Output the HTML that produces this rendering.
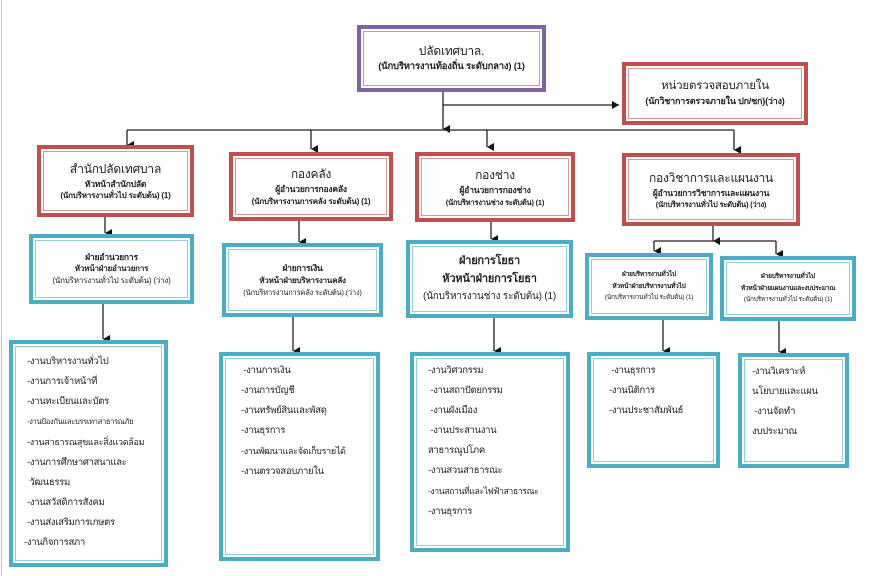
<!DOCTYPE html>
<html><head><meta charset="utf-8">
<style>
html,body{margin:0;padding:0;background:#fff}
body{width:872px;height:576px;position:relative;overflow:hidden;font-family:"Liberation Sans","Noto Sans CJK SC",sans-serif;color:#222}
.b{position:absolute;box-sizing:border-box;border:4px solid;background:#fff;text-align:center}
.b>div.in{position:absolute;left:2px;top:2px;right:2px;bottom:2px;border:1px solid}
.r{border-color:#c0504d}.r>div.in{border-color:#d99694}
.u{border-color:#4bacc6}.u>div.in{border-color:#92cddc}
.p{border-color:#8064a2}.p>div.in{border-color:#b2a1c7}
.t{position:absolute;left:0;right:0;top:0;bottom:0;display:flex;flex-direction:column;justify-content:center;align-items:center;line-height:1.5;white-space:nowrap;letter-spacing:-0.2px}
.l{position:absolute;left:0;right:0;top:0;text-align:left;font-size:9.5px;line-height:20px;white-space:nowrap;letter-spacing:-0.3px}
b{font-weight:bold}
</style></head><body>
<div style="position:absolute;left:1px;top:0;width:1px;height:576px;background:#c8c8c8"></div>
<svg width="872" height="576" style="position:absolute;left:0;top:0">
<defs><marker id="a" markerWidth="8" markerHeight="8" refX="4" refY="7" orient="auto" markerUnits="userSpaceOnUse"><path d="M0,0 L8,0 L4,7 z" fill="#111"/></marker>
<marker id="ar" markerWidth="8" markerHeight="8" refX="7" refY="4" orient="auto" markerUnits="userSpaceOnUse"><path d="M0,0 L7,4 L0,8 z" fill="#111"/></marker></defs>
<g stroke="#222" stroke-width="1.3" fill="none">
<line x1="443" y1="92" x2="443" y2="129" marker-end="url(#a)"/>
<line x1="443" y1="105" x2="619" y2="105" marker-end="url(#ar)"/>
<line x1="127" y1="130" x2="734" y2="130"/>
<line x1="127" y1="130" x2="127" y2="145" marker-end="url(#a)"/>
<line x1="487" y1="130" x2="487" y2="147" marker-end="url(#a)"/>
<line x1="734" y1="130" x2="734" y2="150" marker-end="url(#a)"/>
<line x1="311" y1="130" x2="311" y2="149" marker-end="url(#a)"/>
<line x1="105" y1="217" x2="105" y2="233" marker-end="url(#a)"/>
<line x1="299" y1="221" x2="299" y2="242" marker-end="url(#a)"/>
<line x1="491" y1="222" x2="491" y2="239" marker-end="url(#a)"/>
<line x1="713" y1="226" x2="713" y2="241" marker-end="url(#a)"/>
<line x1="654" y1="241" x2="776" y2="241"/>
<line x1="654" y1="241" x2="654" y2="251" marker-end="url(#a)"/>
<line x1="776" y1="241" x2="776" y2="254" marker-end="url(#a)"/>
<line x1="103" y1="304" x2="103" y2="339" marker-end="url(#a)"/>
<line x1="293" y1="317" x2="293" y2="351" marker-end="url(#a)"/>
<line x1="494" y1="318" x2="494" y2="351" marker-end="url(#a)"/>
<line x1="663" y1="320" x2="663" y2="351" marker-end="url(#a)"/>
<line x1="779" y1="321" x2="779" y2="352" marker-end="url(#a)"/>
</g></svg>

<div class="b p" style="left:357px;top:25px;width:189px;height:67px"><div class="in"></div><div class="t"><span style="font-size:12px">ปลัดเทศบาล.</span><b style="font-size:9.5px">(นักบริหารงานท้องถิ่น ระดับกลาง) (1)</b></div></div>
<div class="b r" style="left:622px;top:62px;width:186px;height:63px"><div class="in"></div><div class="t"><span style="font-size:11.5px">หน่วยตรวจสอบภายใน</span><b style="font-size:9px">(นักวิชาการตรวจภายใน ปก/ชก)(ว่าง)</b></div></div>

<div class="b r" style="left:37px;top:145px;width:157px;height:72px"><div class="in"></div><div class="t"><span style="font-size:12px">สำนักปลัดเทศบาล</span><b style="font-size:8.5px">หัวหน้าสำนักปลัด</b><b style="font-size:8px">(นักบริหารงานทั่วไป ระดับต้น) (1)</b></div></div>
<div class="b r" style="left:229px;top:152px;width:164px;height:69px"><div class="in"></div><div class="t"><span style="font-size:12px">กองคลัง</span><b style="font-size:8.5px">ผู้อำนวยการกองคลัง</b><b style="font-size:8px">(นักบริหารงานการคลัง ระดับต้น) (1)</b></div></div>
<div class="b r" style="left:415px;top:152px;width:160px;height:70px"><div class="in"></div><div class="t"><span style="font-size:12px">กองช่าง</span><b style="font-size:8.5px">ผู้อำนวยการกองช่าง</b><b style="font-size:7.5px">(นักบริหารงานช่าง ระดับต้น) (1)</b></div></div>
<div class="b r" style="left:622px;top:153px;width:178px;height:73px"><div class="in"></div><div class="t"><span style="font-size:12px">กองวิชาการและแผนงาน</span><b style="font-size:8.5px">ผู้อำนวยการวิชาการและแผนงาน</b><b style="font-size:7.5px">(นักบริหารงานทั่วไป ระดับต้น) (ว่าง)</b></div></div>

<div class="b u" style="left:29px;top:234px;width:165px;height:70px"><div class="in"></div><div class="t"><b style="font-size:8.5px">ฝ่ายอำนวยการ</b><b style="font-size:8px">หัวหน้าฝ่ายอำนวยการ</b><span style="font-size:8px">(นักบริหารงานทั่วไป ระดับต้น) (ว่าง)</span></div></div>
<div class="b u" style="left:222px;top:243px;width:161px;height:74px"><div class="in"></div><div class="t"><b style="font-size:8.5px">ฝ่ายการเงิน</b><b style="font-size:8px">หัวหน้าฝ่ายบริหารงานคลัง</b><span style="font-size:7.5px">(นักบริหารงานการคลัง ระดับต้น) (ว่าง)</span></div></div>
<div class="b u" style="left:406px;top:240px;width:167px;height:78px"><div class="in"></div><div class="t" style="line-height:1.6"><b style="font-size:11px">ฝ่ายการโยธา</b><b style="font-size:11px">หัวหน้าฝ่ายการโยธา</b><span style="font-size:10px">(นักบริหารงานช่าง ระดับต้น) (1)</span></div></div>
<div class="b u" style="left:585px;top:253px;width:128px;height:67px"><div class="in"></div><div class="t" style="line-height:1.8"><b style="font-size:6.5px">ฝ่ายบริหารงานทั่วไป</b><b style="font-size:6.5px">หัวหน้าฝ่ายบริหารงานทั่วไป</b><span style="font-size:6.5px">(นักบริหารงานทั่วไป ระดับต้น) (1)</span></div></div>
<div class="b u" style="left:720px;top:256px;width:136px;height:65px"><div class="in"></div><div class="t" style="line-height:1.8"><b style="font-size:6.5px">ฝ่ายบริหารงานทั่วไป</b><b style="font-size:6.5px">หัวหน้าฝ่ายแผนงานและงบประมาณ</b><span style="font-size:6.5px">(นักบริหารงานทั่วไป ระดับต้น) (1)</span></div></div>

<div class="b u" style="left:9px;top:340px;width:159px;height:227px"><div class="in"></div><div class="l" style="top:8px;padding-left:14px">-งานบริหารงานทั่วไป<br>-งานการเจ้าหน้าที่<br>-งานทะเบียนและบัตร<br><span style="font-size:7.5px">-งานป้องกันและบรรเทาสาธารณภัย</span><br><span style="font-size:9px">-งานสาธารณสุขและสิ่งแวดล้อม</span><br>-งานการศึกษาศาสนาและ<br>&nbsp;วัฒนธรรม<br>-งานสวัสดิการสังคม<br>-งานส่งเสริมการเกษตร<br><span style="margin-left:-3px">-งานกิจการสภา</span></div></div>
<div class="b u" style="left:219px;top:352px;width:161px;height:209px"><div class="in"></div><div class="l" style="top:5px;padding-left:18px">&nbsp;-งานการเงิน<br>-งานการบัญชี<br>-งานทรัพย์สินและพัสดุ<br>-งานธุรการ<br><span style="font-size:9px">-งานพัฒนาและจัดเก็บรายได้</span><br>-งานตรวจสอบภายใน</div></div>
<div class="b u" style="left:410px;top:352px;width:160px;height:200px"><div class="in"></div><div class="l" style="top:5px;padding-left:14px">-งานวิศวกรรม<br>&nbsp;-งานสถาปัตยกรรม<br>&nbsp;-งานผังเมือง<br>&nbsp;-งานประสานงาน<br>สาธารณูปโภค<br>-งานสวนสาธารณะ<br><span style="font-size:8.5px">-งานสถานที่และไฟฟ้าสาธารณะ</span><br>-งานธุรการ</div></div>
<div class="b u" style="left:587px;top:352px;width:133px;height:116px"><div class="in"></div><div class="l" style="top:5px;padding-left:18px">&nbsp;-งานธุรการ<br>-งานนิติการ<br>-งานประชาสัมพันธ์</div></div>
<div class="b u" style="left:738px;top:353px;width:111px;height:115px"><div class="in"></div><div class="l" style="top:5px;padding-left:10px">-งานวิเคราะห์<br>นโยบายและแผน<br>&nbsp;-งานจัดทำ<br>งบประมาณ</div></div>
</body></html>
